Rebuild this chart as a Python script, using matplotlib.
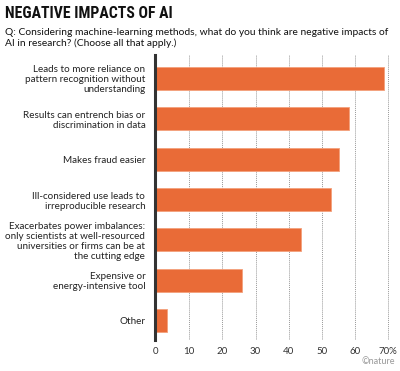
import matplotlib
matplotlib.use("Agg")
import matplotlib.pyplot as plt
from matplotlib import font_manager

categories = [
    "Leads to more reliance on\npattern recognition without\nunderstanding",
    "Results can entrench bias or\ndiscrimination in data",
    "Makes fraud easier",
    "Ill-considered use leads to\nirreproducible research",
    "Exacerbates power imbalances:\nonly scientists at well-resourced\nuniversities or firms can be at\nthe cutting edge",
    "Expensive or\nenergy-intensive tool",
    "Other",
]
values = [68.6, 58.2, 55.0, 52.7, 43.6, 26.0, 3.2]
tick_values = [0, 10, 20, 30, 40, 50, 60, 70]
tick_labels = ["0", "10", "20", "30", "40", "50", "60", "70%"]

title = "NEGATIVE IMPACTS OF AI"
subtitle = ("Q: Considering machine-learning methods, what do you think are negative impacts of\n"
            "AI in research? (Choose all that apply.)")

names = {f.name for f in font_manager.fontManager.ttflist}
title_family = "DejaVu Sans"
for cand in ["Liberation Sans Narrow", "Roboto Condensed", "Open Sans Condensed", "DejaVu Sans Condensed"]:
    if cand in names:
        title_family = cand
        break

W, H = 400, 371
fig = plt.figure(figsize=(W / 100, H / 100), dpi=100)
fig.patch.set_facecolor("white")

ax = fig.add_axes([155 / W, 1 - 340 / H, (390 - 155) / W, (340 - 55) / H])
ypos = list(range(len(categories)))
ax.barh(ypos, values, height=0.57, color="#E96B37", edgecolor="#F3A07C", linewidth=0.6, zorder=3)
ax.set_ylim(len(categories) - 0.525, -0.577)
ax.set_xlim(-0.3, 70.5)
ax.set_xticks(tick_values)
ax.set_xticklabels(tick_labels, fontsize=7, color="#333333", family="Lato")
ax.tick_params(axis="x", length=0, pad=5)
ax.set_yticks(ypos)
ax.set_yticklabels(categories, fontsize=7.1, color="#222222", family="Lato", linespacing=1.15)
ax.tick_params(axis="y", length=0, pad=7)
for lbl in ax.get_yticklabels():
    lbl.set_horizontalalignment("right")
for s in ["top", "right", "bottom"]:
    ax.spines[s].set_visible(False)
ax.spines["left"].set_color("#333333")
ax.spines["left"].set_linewidth(2.2)
ax.spines["left"].set_zorder(4)
ax.xaxis.grid(True, color="#999999", linestyle=(0, (1, 1)), linewidth=0.7, zorder=0)
ax.set_axisbelow(True)
for gl, tv in zip(ax.xaxis.get_gridlines(), tick_values):
    if tv == 0:
        gl.set_visible(False)

fig.text(5 / W, 1 - 14 / H, title, fontsize=11.3, fontweight="bold", family=title_family,
         fontstretch="condensed", va="center", ha="left", color="#111111")
fig.text(5 / W, 1 - 28 / H, subtitle, fontsize=7.35, family="Lato", va="top", ha="left",
         color="#111111", linespacing=1.25)
fig.text(395 / W, 1 - 361 / H, "\u00a9nature", fontsize=6.5, family="Lato", va="center",
         ha="right", color="#999999")

fig.savefig("out.png", dpi=100, facecolor="white")
